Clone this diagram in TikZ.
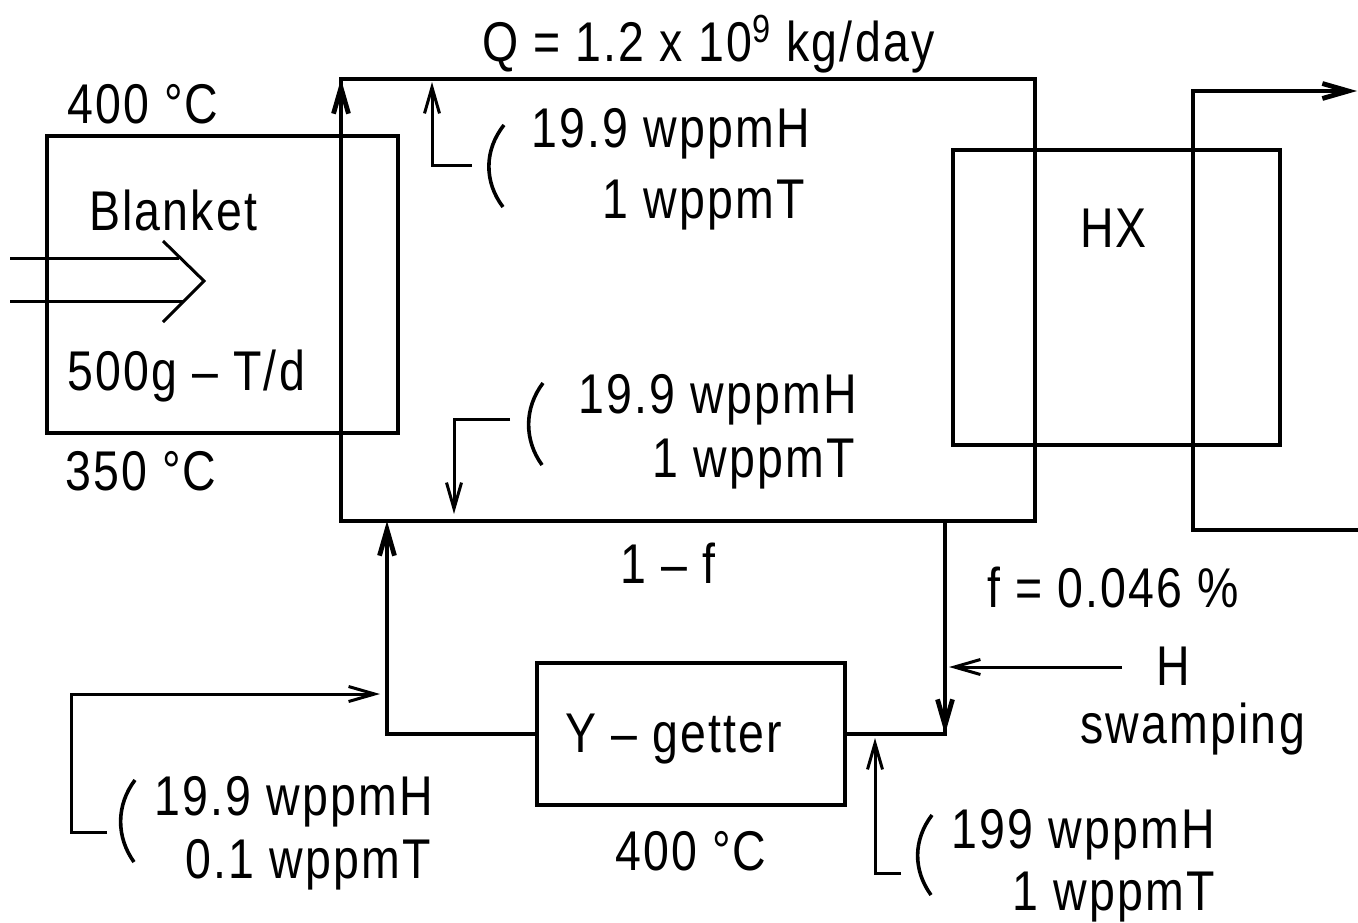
\documentclass[tikz,border=0pt]{standalone}
\usepackage{fontspec}
\setmainfont[FakeStretch=0.83,LetterSpace=4]{Liberation Sans}
\usetikzlibrary{arrows.meta,fit}
\begin{document}
\begin{tikzpicture}[x=0.5pt,y=-0.5pt,
  pipe/.style={line width=2.4pt},
  boxline/.style={draw,line width=2.1pt,inner sep=0pt,outer sep=0pt},
  loopline/.style={draw,line width=2.4pt,inner sep=0pt,outer sep=0pt},
  thinline/.style={line width=1.5pt},
  tip/.style={-{Straight Barb[length=13pt,width=7.5pt]}},
  lbl/.style={font=\fontsize{28}{32}\selectfont,inner sep=0pt,outer sep=0pt},
  line join=miter]
\useasboundingbox (0,0) rectangle (1358,922);

% ---- boxes ----
\coordinate (lpA) at (341,79);  \coordinate (lpB) at (1035,521);
\node[loopline, fit=(lpA)(lpB)] (loop) {};
\coordinate (blA) at (47,136);  \coordinate (blB) at (398,433);
\node[boxline, fit=(blA)(blB)] (blanket) {};
\coordinate (hxA) at (953,150); \coordinate (hxB) at (1280,445);
\node[boxline, fit=(hxA)(hxB)] (hx) {};
\coordinate (ygA) at (537,663); \coordinate (ygB) at (845,805);
\node[boxline, fit=(ygA)(ygB)] (getter) {};

% ---- loop arrow at top-left corner ----
\draw[pipe,tip] (loop.south west) -- (loop.north west);

% ---- outlet of HX ----
\coordinate (o1) at (1358,530); \coordinate (o2) at (1193,530);
\coordinate (o3) at (1193,91);  \coordinate (o4) at (1357,91);
\draw[pipe,tip] (o1) -- (o2) -- (o3) -- (o4);

% ---- return loop through the getter ----
\coordinate (retL) at (387,521);
\coordinate (retR) at (945,521);
\draw[pipe,tip] (getter.west) -| (retL);
\draw[pipe] (getter.east) -| (retR);
\draw[pipe,tip] (retR) -- (retR |- getter.east);

% ---- H swamping ----
\coordinate (hs1) at (1122,667); \coordinate (hs2) at (949,667);
\draw[thinline,tip] (hs1) -- (hs2);

% ---- blanket heat input (double arrow) ----
\coordinate (ba1) at (10,258); \coordinate (ba2) at (179,258);
\coordinate (ba3) at (10,301); \coordinate (ba4) at (183,301);
\coordinate (bc1) at (163,241); \coordinate (bc2) at (204,281); \coordinate (bc3) at (163,322);
\draw[thinline] (ba1) -- (ba2);
\draw[thinline] (ba3) -- (ba4);
\draw[thinline] (bc1) -- (bc2) -- (bc3);

% ---- sampling arrows ----
\coordinate (s1a) at (472,165); \coordinate (s1b) at (432,165); \coordinate (s1c) at (432,82);
\draw[thinline,tip] (s1a) -- (s1b) -- (s1c);
\coordinate (s2a) at (510,419); \coordinate (s2b) at (454,419); \coordinate (s2c) at (454,514);
\draw[thinline,tip] (s2a) -- (s2b) -- (s2c);
\coordinate (s3a) at (107,832); \coordinate (s3b) at (71,832); \coordinate (s3c) at (71,694); \coordinate (s3d) at (380,694);
\draw[thinline,tip] (s3a) -- (s3b) -- (s3c) -- (s3d);
\coordinate (s4a) at (901,873); \coordinate (s4b) at (875,873); \coordinate (s4c) at (875,738);
\draw[thinline,tip] (s4a) -- (s4b) -- (s4c);

% ---- brackets ----
\draw[line width=1.8pt] (504,125) .. controls (484,150) and (484,182) .. (503,207);
\draw[line width=1.8pt] (543,383) .. controls (524,408) and (524,440) .. (542,465);
\draw[line width=1.8pt] (135,780) .. controls (116,805) and (116,837) .. (134,862);
\draw[line width=1.8pt] (932,815) .. controls (913,840) and (913,870) .. (931,895);

% ---- labels ----
\node[lbl,anchor=base west] (tq) at (482,61) {Q = 1.2 x 10\textsuperscript{9} kg/day};
\node[lbl,anchor=base west] (t400a) at (67,123) {400 °C};
\node[lbl,anchor=base west] (tbl) at (89,230) {Blanket};
\node[lbl,anchor=base west] (t500) at (67,390) {500g – T/d};
\node[lbl,anchor=base west] (t350) at (65,490) {350 °C};
\node[lbl,anchor=base east] (ta1) at (810,147) {19.9 wppmH};
\node[lbl,anchor=base east] (ta2) at (805,218) {1 wppmT};
\node[lbl,anchor=base west] (thx) at (1080,247) {HX};
\node[lbl,anchor=base east] (tb1) at (857,413) {19.9 wppmH};
\node[lbl,anchor=base east] (tb2) at (855,477) {1 wppmT};
\node[lbl,anchor=base west] (tf1) at (620,583) {1 – f};
\node[lbl,anchor=base west] (tf) at (987,607) {f = 0.046 \%};
\node[lbl,anchor=base west] (th) at (1156,685) {H};
\node[lbl,anchor=base west] (tsw) at (1080,743) {swamping};
\node[lbl,anchor=base west] (tyg) at (565,752) {Y – getter};
\node[lbl,anchor=base west] (t400b) at (615,870) {400 °C};
\node[lbl,anchor=base east] (tc1) at (433,815) {19.9 wppmH};
\node[lbl,anchor=base east] (tc2) at (431,878) {0.1 wppmT};
\node[lbl,anchor=base east] (td1) at (1215,848) {199 wppmH};
\node[lbl,anchor=base east] (td2) at (1215,910) {1 wppmT};
\end{tikzpicture}
\end{document}
